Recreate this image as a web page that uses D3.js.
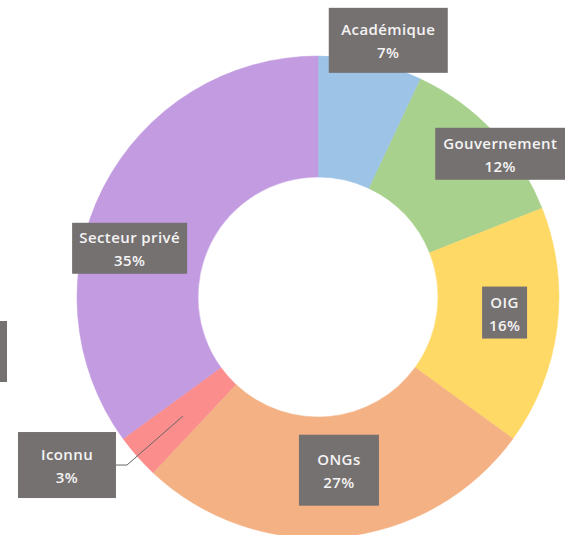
<!DOCTYPE html>
<html>
<head>
  <meta charset="utf-8">
  <script src="https://cdn.jsdelivr.net/npm/d3@7"></script>
  <style>
    body { margin: 0; background: #fff; }
    svg { display: block; }
    .lbl text {
      font-family: "Open Sans", sans-serif;
      font-weight: 600;
      font-size: 15px;
      letter-spacing: 0.4px;
      fill: #f4f4f4;
      text-anchor: middle;
    }
  </style>
</head>
<body>
  <script type="text/javascript">
    // data, clockwise from 12 o'clock
    var categories = ["Académique", "Gouvernement", "OIG", "ONGs", "Iconnu", "Secteur privé"];
    var shares = [7, 12, 16, 27, 3, 35];
    var colors = ["#9dc3e6", "#a9d18e", "#ffd966", "#f4b183", "#fb8d8d", "#c39be1"];

    // label boxes, moved off the centroid like in the original
    var labelShift = [[31, -81], [51, -20], [8, -7], [4, -6], [-116, 49], [-28, 33]];
    var labelBox = [[119, 65], [130, 52], [45, 52], [80, 71], [98, 66], [115, 51]];

    var W = 565, H = 535;
    var cx = 318, cy = 297, R = 241, r = 120;

    var svg = d3.select("body").append("svg")
                .attr("width", W)
                .attr("height", H);

    // cut off box at the left edge
    svg.append("rect")
       .attr("x", -40).attr("y", 321)
       .attr("width", 47).attr("height", 61)
       .attr("fill", "#767171");

    var g = svg.append("g").attr("transform", "translate(" + cx + "," + cy + ")");

    var pie = d3.pie().sort(null).value(function(d){ return d; });
    var arcs = pie(shares);
    var arc = d3.arc().innerRadius(r).outerRadius(R);
    var mid = d3.arc().innerRadius(180).outerRadius(180);

    g.selectAll("path.slice")
     .data(arcs)
     .enter().append("path")
     .attr("class", "slice")
     .attr("d", arc)
     .attr("fill", function(d, i){ return colors[i]; })
     .attr("stroke", function(d, i){ return colors[i]; })
     .attr("stroke-width", 0.5);

    // leader line for the small slice
    var ic = categories.indexOf("Iconnu");
    var c = mid.centroid(arcs[ic]);
    var bx = c[0] + labelShift[ic][0] + labelBox[ic][0] / 2;
    var by = c[1] + labelShift[ic][1];
    g.append("path")
     .attr("d", "M" + bx + "," + by + "H" + (bx + 11) + "L" + c[0] + "," + c[1])
     .attr("fill", "none")
     .attr("stroke", "#6b6565")
     .attr("stroke-width", 1);

    var lbl = g.selectAll("g.lbl")
               .data(arcs)
               .enter().append("g")
               .attr("class", "lbl")
               .attr("transform", function(d, i){
                 var p = mid.centroid(d);
                 return "translate(" + (p[0] + labelShift[i][0]) + "," + (p[1] + labelShift[i][1]) + ")";
               });

    lbl.append("rect")
       .attr("x", function(d, i){ return -labelBox[i][0] / 2; })
       .attr("y", function(d, i){ return -labelBox[i][1] / 2; })
       .attr("width", function(d, i){ return labelBox[i][0]; })
       .attr("height", function(d, i){ return labelBox[i][1]; })
       .attr("fill", "#767171");

    lbl.append("text")
       .attr("y", -5)
       .text(function(d, i){ return categories[i]; });

    lbl.append("text")
       .attr("y", 18)
       .text(function(d, i){ return shares[i] + "%"; });
  </script>
</body>
</html>
